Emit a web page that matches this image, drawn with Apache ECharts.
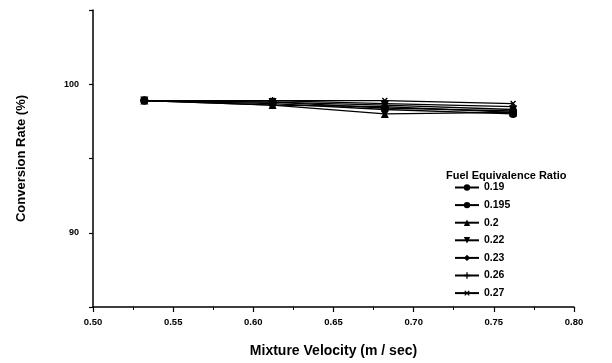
<!DOCTYPE html>
<html>
<head>
<meta charset="utf-8">
<script src="https://cdn.jsdelivr.net/npm/echarts@6/dist/echarts.min.js"></script>
<style>
  html, body { margin: 0; padding: 0; background: #fff; }
  #chart { width: 612px; height: 363px; }
</style>
</head>
<body>
<div id="chart"></div>
<script>
const velocities = [0.532, 0.612, 0.682, 0.762];
const ratioNames = ['0.19', '0.195', '0.2', '0.22', '0.23', '0.26', '0.27'];
const ratio019 = [98.9, 98.8, 98.4, 98.2];
const ratio0195 = [98.9, 98.7, 98.3, 98.0];
const ratio02 = [98.9, 98.6, 98.0, 98.1];
const ratio022 = [98.9, 98.8, 98.6, 98.3];
const ratio023 = [98.9, 98.6, 98.5, 98.1];
const ratio026 = [98.9, 98.9, 98.7, 98.5];
const ratio027 = [98.9, 98.9, 98.9, 98.7];
const yLabels = [90, 100];

const seriesValues = [ratio019, ratio0195, ratio02, ratio022, ratio023, ratio026, ratio027];
const plusPath = 'path://M4,0h2v10h-2z M0,4h10v2h-10z';
const symbols = ['circle', 'circle', 'triangle', 'triangle', 'diamond', plusPath, plusPath];
const symbolRotate = [0, 0, 0, 180, 0, 0, 45];
const symbolSize = [8, 8, 8, 8, 8, 7, 7];

const font = 'Liberation Sans, Arial, sans-serif';
const chart = echarts.init(document.getElementById('chart'));

const series = ratioNames.map((name, i) => ({
    name: name,
    type: 'line',
    data: velocities.map((v, j) => [v, seriesValues[i][j]]),
    symbol: symbols[i],
    symbolRotate: symbolRotate[i],
    symbolSize: symbolSize[i],
    showSymbol: true,
    lineStyle: { color: '#000', width: 1.3 },
    itemStyle: { color: '#000', borderWidth: 0 },
}));

chart.setOption({
    animation: false,
    backgroundColor: '#fff',
    title: {
        text: 'Fuel Equivalence Ratio',
        left: 441,
        top: 165,
        textStyle: { fontFamily: font, fontWeight: 'bold', fontSize: 11, color: '#000' },
    },
    legend: {
        orient: 'vertical',
        left: 449,
        top: 177,
        itemWidth: 24,
        itemHeight: 8,
        itemGap: 6.6,
        data: ratioNames,
        textStyle: { fontFamily: font, fontWeight: 'bold', fontSize: 10.5, color: '#000', padding: [0, 0, 0, 0] },
    },
    grid: { left: 93, right: 38, top: 10, bottom: 56 },
    xAxis: {
        type: 'value',
        min: 0.5,
        max: 0.8,
        interval: 0.05,
        name: 'Mixture Velocity (m / sec)',
        nameLocation: 'middle',
        nameGap: 37,
        nameTextStyle: { fontFamily: font, fontWeight: 'bold', fontSize: 14, color: '#000' },
        axisLine: { lineStyle: { color: '#000', width: 1.5 } },
        axisTick: { length: 5, lineStyle: { color: '#000', width: 1.2 } },
        minorTick: { show: true, splitNumber: 2, length: 3, lineStyle: { color: '#000' } },
        axisLabel: {
            margin: 10,
            fontFamily: font, fontWeight: 'bold', fontSize: 9.5, color: '#000',
            formatter: v => v.toFixed(2),
        },
        splitLine: { show: false },
    },
    yAxis: {
        type: 'value',
        min: 85,
        max: 105,
        interval: 5,
        name: 'Conversion Rate (%)',
        nameLocation: 'middle',
        nameGap: 65,
        nameTextStyle: { fontFamily: font, fontWeight: 'bold', fontSize: 13, color: '#000' },
        axisLine: { show: true, lineStyle: { color: '#000', width: 1.5 } },
        axisTick: { show: true, length: 4, lineStyle: { color: '#000', width: 1.2 } },
        axisLabel: {
            margin: 14,
            fontFamily: font, fontWeight: 'bold', fontSize: 9, color: '#000',
            formatter: v => (yLabels.indexOf(v) >= 0 ? String(v) : ''),
        },
        splitLine: { show: false },
    },
    series: series,
});
</script>
</body>
</html>
